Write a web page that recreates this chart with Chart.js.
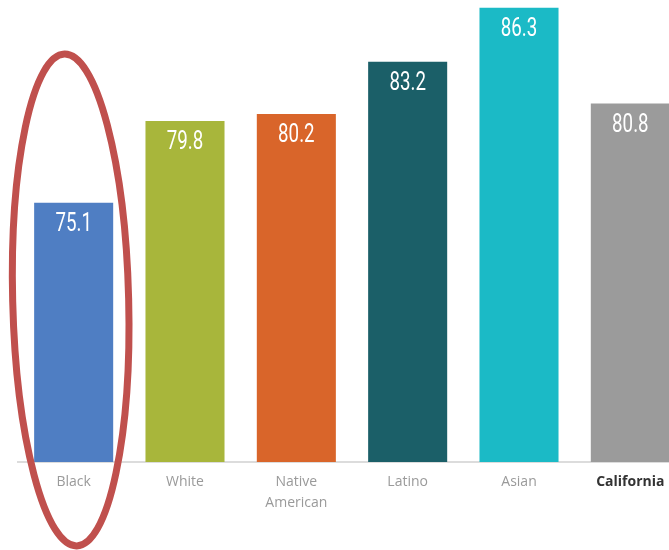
<!DOCTYPE html>
<html>
<head>
<meta charset="utf-8">
<script src="https://cdn.jsdelivr.net/npm/chart.js@4"></script>
<style>
  html, body { margin: 0; padding: 0; background: #fff; overflow: hidden; }
  #wrap { width: 688px; height: 550px; }
</style>
</head>
<body>
<div id="wrap"><canvas id="chart"></canvas></div>
<script>
// datos
const groups = ['Black', 'White', ['Native', 'American'], 'Latino', 'Asian', 'California'];
const values = [75.1, 79.8, 80.2, 83.2, 86.3, 80.8];
const barColors = ['#4f7ec3', '#a8b63b', '#d9652a', '#1b5f68', '#1bbac6', '#9b9b9b'];

// etiquetas blancas dentro de cada barra (fuente estrecha simulada con escala horizontal)
const valueLabels = {
    id: 'valueLabels',
    afterDatasetsDraw(chart) {
        const ctx = chart.ctx;
        const meta = chart.getDatasetMeta(0);
        meta.data.forEach(function (bar, i) {
            ctx.save();
            ctx.translate(bar.x, bar.y + 9);
            ctx.scale(0.72, 1);
            ctx.fillStyle = '#ffffff';
            ctx.font = '26px Roboto, sans-serif';
            ctx.textAlign = 'center';
            ctx.textBaseline = 'top';
            ctx.fillText(values[i].toFixed(1), 0, 0);
            ctx.restore();
        });
    }
};

// elipse roja alrededor de la primera barra
const circleFirst = {
    id: 'circleFirst',
    afterDraw(chart) {
        const ctx = chart.ctx;
        const bar = chart.getDatasetMeta(0).data[0];
        ctx.save();
        ctx.strokeStyle = '#c0504d';
        ctx.lineWidth = 7;
        ctx.beginPath();
        ctx.ellipse(bar.x - 3, 300, 58, 246, -0.025, 0, Math.PI * 2);
        ctx.stroke();
        ctx.restore();
    }
};

const chart = new Chart(document.getElementById('chart'), {
    type: 'bar',
    data: {
        labels: groups,
        datasets: [{
            data: values,
            backgroundColor: barColors,
            borderWidth: 0,
            categoryPercentage: 1,
            barPercentage: 0.71
        }]
    },
    options: {
        responsive: true,
        maintainAspectRatio: false,
        animation: false,
        layout: { padding: { left: 18, right: 2, top: 0, bottom: 0 } },
        plugins: {
            legend: { display: false },
            tooltip: { enabled: false }
        },
        scales: {
            x: {
                grid: { display: false },
                border: { display: true, color: '#dcdcdc', width: 2 },
                ticks: {
                    padding: 2,
                    maxRotation: 0,
                    color: function (c) { return c.index === 5 ? '#333333' : '#9a9a9a'; },
                    font: function (c) {
                        return {
                            family: '"Open Sans", sans-serif',
                            size: 14,
                            weight: c.index === 5 ? 'bold' : 'normal',
                            lineHeight: 1.5
                        };
                    }
                },
                afterFit: function (scale) { scale.height = 88; }
            },
            y: {
                display: false,
                min: 60.2,
                max: 86.75
            }
        }
    },
    plugins: [valueLabels, circleFirst]
});
</script>
</body>
</html>
